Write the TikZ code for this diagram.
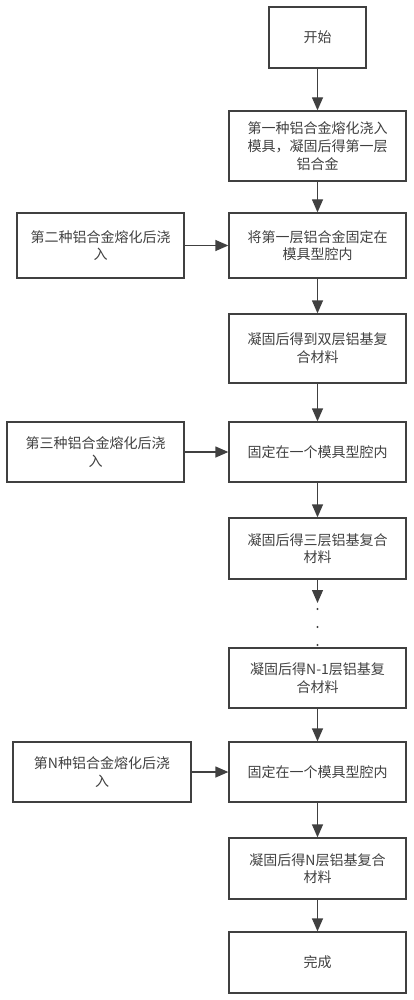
\documentclass[tikz,border=0pt]{standalone}
\usepackage{fontspec}
\newfontfamily\cjk{Noto Sans CJK SC}
\usetikzlibrary{arrows.meta}

\begin{document}
\begin{tikzpicture}[x=1pt, y=-1pt,
  laatikko/.style={draw=black!75, line width=1.3pt, text=black!75, align=center,
    font=\cjk\fontsize{14}{17.7}\selectfont, inner sep=0pt},
  nuoli/.style={draw=black!75, line width=1.3pt, -{Triangle[length=13pt, width=11pt]}}]
\useasboundingbox (0,0) rectangle (413,1000);

%paalaatikot
\node[laatikko, minimum width=97pt, minimum height=61pt] (alku) at (317.5,37.5) {开始};
\node[laatikko, minimum width=177pt, minimum height=70pt] (eka) at (317.5,146) {第一种铝合金熔化浇入\\模具，凝固后得第一层\\铝合金};
\node[laatikko, minimum width=177pt, minimum height=65pt] (kiinnitys1) at (317.5,245.5) {将第一层铝合金固定在\\模具型腔内};
\node[laatikko, minimum width=177pt, minimum height=69pt] (kaksi) at (317.5,348.5) {凝固后得到双层铝基复\\合材料};
\node[laatikko, minimum width=177pt, minimum height=60pt] (kiinnitys2) at (317.5,452) {固定在一个模具型腔内};
\node[laatikko, minimum width=177pt, minimum height=61pt] (kolme) at (317.5,548.5) {凝固后得三层铝基复合\\材料};
\node[laatikko, minimum width=177pt, minimum height=60pt] (nmiinus) at (317.5,678) {凝固后得N-1层铝基复\\合材料};
\node[laatikko, minimum width=177pt, minimum height=60pt] (kiinnitysn) at (317.5,772) {固定在一个模具型腔内};
\node[laatikko, minimum width=177pt, minimum height=61pt] (nkerros) at (317.5,868.5) {凝固后得N层铝基复合\\材料};
\node[laatikko, minimum width=177pt, minimum height=61pt] (valmis) at (317.5,962.5) {完成};

%sivulaatikot
\node[laatikko, minimum width=167pt, minimum height=65pt] (toka) at (100.5,245.5) {第二种铝合金熔化后浇\\入};
\node[laatikko, minimum width=177pt, minimum height=60pt] (kolmas) at (95.5,452) {第三种铝合金熔化后浇\\入};
\node[laatikko, minimum width=178pt, minimum height=60pt] (ntes) at (102,772) {第N种铝合金熔化后浇\\入};

%nuolet
\draw[nuoli] (alku) -- (eka);
\draw[nuoli] (eka) -- (kiinnitys1);
\draw[nuoli] (kiinnitys1) -- (kaksi);
\draw[nuoli] (kaksi) -- (kiinnitys2);
\draw[nuoli] (kiinnitys2) -- (kolme);
\coordinate (pisteet) at (317.5,603);
\draw[nuoli] (kolme) -- (pisteet);
\draw[nuoli] (nmiinus) -- (kiinnitysn);
\draw[nuoli] (kiinnitysn) -- (nkerros);
\draw[nuoli] (nkerros) -- (valmis);
\draw[nuoli] (toka) -- (kiinnitys1);
\draw[nuoli] (kolmas) -- (kiinnitys2);
\draw[nuoli] (ntes) -- (kiinnitysn);

%pisteet
\fill[black!75] (317.5,609) circle (1.1pt) (317.5,627) circle (1.1pt) (317.5,645) circle (1.1pt);

\end{tikzpicture}
\end{document}
